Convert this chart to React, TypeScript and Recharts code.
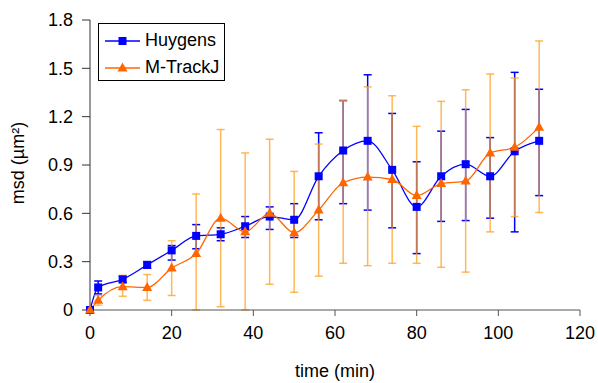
import { LineChart, Line, XAxis, YAxis, ErrorBar } from 'recharts'

const times = [0, 2, 8, 14, 20, 26, 32, 38, 44, 50, 56, 62, 68, 74, 80, 86, 92, 98, 104, 110]

const huygens = [0, 0.14, 0.19, 0.28, 0.37, 0.46, 0.47, 0.52, 0.58, 0.56, 0.83, 0.99, 1.05, 0.87, 0.64, 0.83, 0.905, 0.83, 0.985, 1.05]
// [below, above]
const huygensErr = [
  [0, 0], [0.04, 0.04], [0.02, 0.02], [0.02, 0.02], [0.06, 0.03], [0.08, 0.07], [0.04, 0.04],
  [0.07, 0.06], [0.08, 0.06], [0.11, 0.1], [0.27, 0.27], [0.33, 0.31], [0.43, 0.41], [0.36, 0.35],
  [0.29, 0.28], [0.28, 0.28], [0.35, 0.34], [0.26, 0.24], [0.5, 0.49], [0.34, 0.32],
]

const mtrackj = [0, 0.06, 0.145, 0.14, 0.26, 0.35, 0.57, 0.485, 0.6, 0.48, 0.62, 0.79, 0.825, 0.81, 0.71, 0.785, 0.8, 0.975, 1.01, 1.135]
const mtrackjErr = [
  [0, 0], [0.03, 0.03], [0.06, 0.07], [0.08, 0.08], [0.17, 0.17], [0.35, 0.37], [0.55, 0.55],
  [0.485, 0.49], [0.44, 0.46], [0.37, 0.38], [0.41, 0.41], [0.5, 0.51], [0.55, 0.56], [0.52, 0.52],
  [0.42, 0.43], [0.52, 0.51], [0.565, 0.567], [0.49, 0.49], [0.43, 0.43], [0.53, 0.535],
]

const xTicks = [0, 20, 40, 60, 80, 100, 120]
const yTicks = [0, 0.3, 0.6, 0.9, 1.2, 1.5, 1.8]

const data = times.map((t, i) => ({
  time: t,
  huygens: huygens[i],
  hErr: huygensErr[i],
  mtrackj: mtrackj[i],
  mErr: mtrackjErr[i],
}))

const FONT = '"Liberation Sans", Arial, sans-serif'
const BLUE = '#0000FF'
const ORANGE = '#FF6600'
const ORANGE_BAR = '#FFA020'

const Square = (props: any) => {
  const { cx, cy, index } = props
  if (cx == null || cy == null) return null
  return <rect key={'s' + index} x={cx - 4} y={cy - 4} width={8} height={8} fill={BLUE} />
}

const Triangle = (props: any) => {
  const { cx, cy, index } = props
  if (cx == null || cy == null) return null
  return (
    <polygon
      key={'t' + index}
      points={`${cx},${cy - 5.5} ${cx - 5},${cy + 3.5} ${cx + 5},${cy + 3.5}`}
      fill={ORANGE}
    />
  )
}

const LegendBox = () => (
  <div
    style={{
      position: 'absolute',
      left: 98,
      top: 23,
      width: 127,
      height: 58,
      boxSizing: 'border-box',
      border: '1px solid #000',
      background: '#fff',
      fontFamily: FONT,
      fontSize: 18,
      color: '#000',
      paddingTop: 5,
    }}
  >
    {[
      { name: 'Huygens', color: BLUE, tri: false },
      { name: 'M-TrackJ', color: ORANGE, tri: true },
    ].map((it) => (
      <div key={it.name} style={{ display: 'flex', alignItems: 'center', height: 23, marginBottom: 4 }}>
        <svg width={46} height={14} style={{ marginLeft: 6 }}>
          <line x1={0} y1={7} x2={35} y2={7} stroke={it.color} strokeWidth={1.5} />
          {it.tri ? (
            <polygon points="17.5,1.5 12.5,10.5 22.5,10.5" fill={it.color} />
          ) : (
            <rect x={13.5} y={3} width={8} height={8} fill={it.color} />
          )}
        </svg>
        <span style={{ marginLeft: -6 }}>{it.name}</span>
      </div>
    ))}
  </div>
)

export default function App() {
  return (
    <div style={{ position: 'absolute', left: 0, top: 0, width: 598, height: 383, background: '#fff' }}>
      <LineChart
        width={598}
        height={383}
        data={data}
        margin={{ top: 20, right: 18, bottom: 3, left: 0 }}
        style={{ fontFamily: FONT }}
      >
        <XAxis
          dataKey="time"
          type="number"
          domain={[0, 120]}
          ticks={xTicks}
          interval={0}
          height={70}
          tickSize={6}
          tickMargin={10}
          axisLine={{ stroke: '#555' }}
          tickLine={{ stroke: '#555' }}
          tick={{ fill: '#000', fontSize: 18, fontFamily: FONT }}
          label={{ value: 'time (min)', position: 'insideBottom', offset: 3, fill: '#000', fontSize: 18, fontFamily: FONT }}
        />
        <YAxis
          type="number"
          domain={[0, 1.8]}
          ticks={yTicks}
          interval={0}
          width={90}
          tickSize={8}
          tickMargin={9}
          axisLine={{ stroke: '#333' }}
          tickLine={{ stroke: '#333' }}
          tick={{ fill: '#000', fontSize: 18, fontFamily: FONT }}
          label={{
            content: () => (
              <text
                x={24}
                y={163}
                transform="rotate(-90, 24, 163)"
                textAnchor="middle"
                fontSize={18}
                fontFamily={FONT}
                fill="#000"
              >
                msd (µm²)
              </text>
            ),
          }}
        />
        <Line
          dataKey="huygens"
          type="monotone"
          stroke={BLUE}
          strokeWidth={1.3}
          dot={Square}
          activeDot={false}
          isAnimationActive={false}
        >
          <ErrorBar dataKey="hErr" width={4} stroke={BLUE} strokeWidth={1.5} direction="y" />
        </Line>
        <Line
          dataKey="mtrackj"
          type="monotone"
          stroke={ORANGE}
          strokeWidth={1.3}
          dot={Triangle}
          activeDot={false}
          isAnimationActive={false}
        >
          <ErrorBar dataKey="mErr" width={4} stroke={ORANGE_BAR} strokeOpacity={0.75} strokeWidth={1.5} direction="y" />
        </Line>
      </LineChart>
      <LegendBox />
    </div>
  )
}
